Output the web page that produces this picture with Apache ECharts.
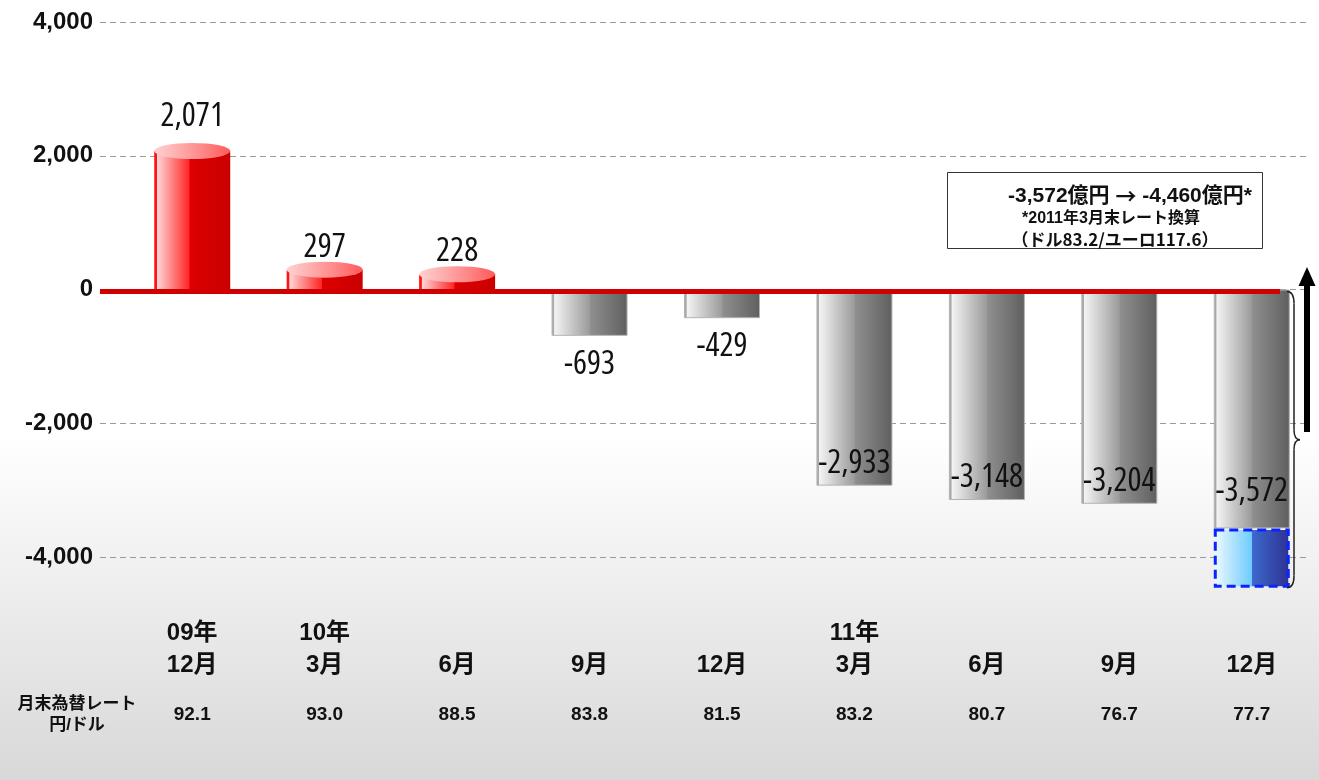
<!DOCTYPE html>
<html>
<head>
<meta charset="utf-8">
<script src="https://cdn.jsdelivr.net/npm/echarts@6/dist/echarts.min.js"></script>
<style>
  html, body { margin: 0; padding: 0; }
  #main { width: 1319px; height: 780px; }
</style>
</head>
<body>
<div id="main"></div>
<script>
  // 四半期末ごとの値（億円）
  const categories = ['09年\n12月', '10年\n3月', '6月', '9月', '12月', '11年\n3月', '6月', '9月', '12月']
  const values = [2071, 297, 228, -693, -429, -2933, -3148, -3204, -3572]
  const rebasedLast = -4460 // 2011年3月末レート換算
  const usdRates = ['92.1', '93.0', '88.5', '83.8', '81.5', '83.2', '80.7', '76.7', '77.7']
  const yMin = -4000
  const yMax = 4000
  const yStep = 2000

  const JP = '"Liberation Sans", "Noto Sans CJK JP", sans-serif'
  const CJK = '"Noto Sans CJK JP", sans-serif'

  function hGrad (stops) {
    return {
      type: 'linear', x: 0, y: 0, x2: 1, y2: 0,
      colorStops: stops.map(s => ({ offset: s[0], color: s[1] }))
    }
  }

  const redFill = hGrad([[0, '#ff1414'], [0.03, '#ff1414'], [0.04, '#ffd4d4'], [0.46, '#ff2626'], [0.47, '#de0000'], [1, '#c90000']])
  const grayFill = hGrad([[0, '#a9a9a9'], [0.03, '#a9a9a9'], [0.04, '#f3f3f3'], [0.5, '#9b9b9b'], [0.51, '#8f8f8f'], [1, '#5f5f5f']])
  const blueFill = hGrad([[0, '#f2fbff'], [0.5, '#6ecbff'], [0.51, '#3d68cc'], [1, '#2d3191']])
  const capFill = hGrad([[0, '#ffd2d2'], [0.6, '#ff8c8c'], [1, '#ff5a5a']])

  const posData = values.map(v => {
    if (v <= 0) return '-'
    return { value: v, label: { distance: v > 1000 ? 18 : 6 } }
  })
  const negData = values.map((v, i) => {
    if (v >= 0) return '-'
    let small = Math.abs(v) < 1000
    return {
      value: v,
      label: {
        position: small ? 'bottom' : 'insideBottom',
        distance: small ? 12 : (i === values.length - 1 ? 20 : 6)
      }
    }
  })
  const extraData = values.map((v, i) => i === values.length - 1 ? rebasedLast - v : '-')

  const chart = echarts.init(document.getElementById('main'))

  // 細長い数字ラベル（Open Sans の condensed 幅を使う）
  const valueLabel = {
    show: true,
    fontFamily: '"Open Sans", sans-serif',
    fontWeight: '500 condensed',
    fontSize: 33,
    color: '#111',
    formatter: p => Number(p.value).toLocaleString('en-US')
  }

  let option = {
    animation: false,
    backgroundColor: {
      type: 'linear', x: 0, y: 0, x2: 0, y2: 1,
      colorStops: [
        { offset: 0, color: '#ffffff' },
        { offset: 0.56, color: '#ffffff' },
        { offset: 1, color: '#d8d8d8' }
      ]
    },
    grid: [
      { left: 100, right: 9, top: 22, bottom: 223 },
      { left: 126, right: 1, top: 22, bottom: 223 }
    ],
    xAxis: [
      { gridIndex: 0, type: 'value', min: 0, max: 1, show: false },
      {
        gridIndex: 1,
        type: 'category',
        data: categories,
        axisLine: { show: false },
        axisTick: { show: false },
        axisLabel: {
          margin: 60,
          fontFamily: JP,
          fontWeight: 'bold',
          fontSize: 24,
          lineHeight: 32,
          color: '#111',
          formatter: v => v.indexOf('\n') < 0 ? '\n' + v : v
        }
      },
      {
        gridIndex: 1,
        type: 'category',
        position: 'bottom',
        data: usdRates,
        axisLine: { show: false },
        axisTick: { show: false },
        axisLabel: {
          margin: 148,
          fontFamily: JP,
          fontWeight: 'bold',
          fontSize: 19,
          color: '#111'
        }
      }
    ],
    yAxis: [
      {
        gridIndex: 0,
        type: 'value',
        min: yMin,
        max: yMax,
        interval: yStep,
        axisLine: { show: false },
        axisTick: { show: false },
        axisLabel: {
          margin: 7,
          fontFamily: '"Liberation Sans", sans-serif',
          fontWeight: 'bold',
          fontSize: 24,
          color: '#111',
          formatter: v => v.toLocaleString('en-US')
        },
        splitLine: { lineStyle: { color: '#9a9a9a', type: [6, 4], width: 1 } }
      },
      {
        gridIndex: 1,
        type: 'value',
        min: yMin,
        max: yMax,
        interval: yStep,
        show: false,
        splitLine: { show: false }
      }
    ],
    series: [
      {
        name: 'pos',
        type: 'bar',
        xAxisIndex: 1,
        yAxisIndex: 1,
        stack: 'a',
        barWidth: 76,
        data: posData,
        itemStyle: { color: redFill },
        label: Object.assign({}, valueLabel, { position: 'top' }),
        z: 2
      },
      {
        name: 'neg',
        type: 'bar',
        xAxisIndex: 1,
        yAxisIndex: 1,
        stack: 'a',
        barWidth: 76,
        data: negData,
        itemStyle: { color: grayFill, borderColor: '#b3b3b3', borderWidth: 1 },
        label: valueLabel,
        z: 2
      },
      {
        name: 'rebased',
        type: 'bar',
        xAxisIndex: 1,
        yAxisIndex: 1,
        stack: 'a',
        barWidth: 76,
        clip: false,
        data: extraData,
        itemStyle: { color: blueFill, borderColor: '#0a24ff', borderWidth: 3, borderType: [9, 5] },
        z: 3
      },
      {
        name: 'cap',
        type: 'pictorialBar',
        xAxisIndex: 1,
        yAxisIndex: 1,
        symbol: 'circle',
        symbolSize: [76, 16],
        symbolPosition: 'end',
        symbolOffset: [0, '-50%'],
        data: values.map(v => v > 0 ? v : '-'),
        itemStyle: { color: capFill },
        z: 4
      }
    ]
  }

  chart.setOption(option)

  // 注記（ゼロ線・矢印・括弧・枠）
  const y0 = chart.convertToPixel({ yAxisIndex: 1 }, 0) + 2
  const yLast = chart.convertToPixel({ yAxisIndex: 1 }, rebasedLast)
  const yMid = (y0 + yLast) / 2
  const bx = 1287
  const bs = { stroke: '#222', lineWidth: 1.5, fill: null }

  const graphics = [
    {
      type: 'line',
      shape: { x1: 100, y1: y0, x2: 1280, y2: y0 },
      style: { stroke: '#d10000', lineWidth: 5 },
      z: 10
    },
    { type: 'bezierCurve', shape: { x1: bx, y1: y0, cpx1: bx + 7, cpy1: y0, x2: bx + 7, y2: y0 + 12 }, style: bs, z: 10 },
    { type: 'line', shape: { x1: bx + 7, y1: y0 + 12, x2: bx + 7, y2: yMid - 10 }, style: bs, z: 10 },
    { type: 'bezierCurve', shape: { x1: bx + 7, y1: yMid - 10, cpx1: bx + 7, cpy1: yMid, x2: bx + 13, y2: yMid }, style: bs, z: 10 },
    { type: 'bezierCurve', shape: { x1: bx + 13, y1: yMid, cpx1: bx + 7, cpy1: yMid, x2: bx + 7, y2: yMid + 10 }, style: bs, z: 10 },
    { type: 'line', shape: { x1: bx + 7, y1: yMid + 10, x2: bx + 7, y2: yLast - 12 }, style: bs, z: 10 },
    { type: 'bezierCurve', shape: { x1: bx + 7, y1: yLast - 12, cpx1: bx + 7, cpy1: yLast, x2: bx, y2: yLast }, style: bs, z: 10 },
    {
      type: 'rect',
      shape: { x: 1304, y: 283, width: 6, height: 149 },
      style: { fill: '#000' },
      z: 10
    },
    {
      type: 'polygon',
      shape: { points: [[1307, 267], [1298.5, 286], [1315.5, 286]] },
      style: { fill: '#000' },
      z: 10
    },
    {
      type: 'rect',
      shape: { x: 947.5, y: 172.5, width: 315, height: 76 },
      style: { fill: '#fff', stroke: '#333', lineWidth: 1 },
      z: 10
    },
    {
      type: 'text',
      x: 1130,
      y: 196,
      style: {
        text: '{a|-3,572億円 }{b|→}{a| -4,460億円*}',
        fill: '#111',
        align: 'center',
        verticalAlign: 'middle',
        rich: {
          a: { font: 'bold 21px ' + JP, fill: '#111' },
          b: { font: 'bold 21px ' + CJK, fill: '#111' }
        }
      },
      z: 11
    },
    {
      type: 'text',
      x: 1111,
      y: 219,
      style: {
        text: '*2011年3月末レート換算',
        font: 'bold 16px ' + JP,
        fill: '#111',
        align: 'center',
        verticalAlign: 'middle'
      },
      z: 11
    },
    {
      type: 'text',
      x: 1115,
      y: 240,
      style: {
        text: '（ドル83.2/ユーロ117.6）',
        font: 'bold 17px ' + CJK,
        fill: '#111',
        align: 'center',
        verticalAlign: 'middle'
      },
      z: 11
    },
    {
      type: 'text',
      x: 77,
      y: 715,
      style: {
        text: '月末為替レート\n円/ドル',
        font: 'bold 17px ' + JP,
        lineHeight: 21,
        fill: '#111',
        align: 'center',
        verticalAlign: 'middle'
      },
      z: 11
    }
  ]

  chart.setOption({ graphic: graphics })
</script>
</body>
</html>
